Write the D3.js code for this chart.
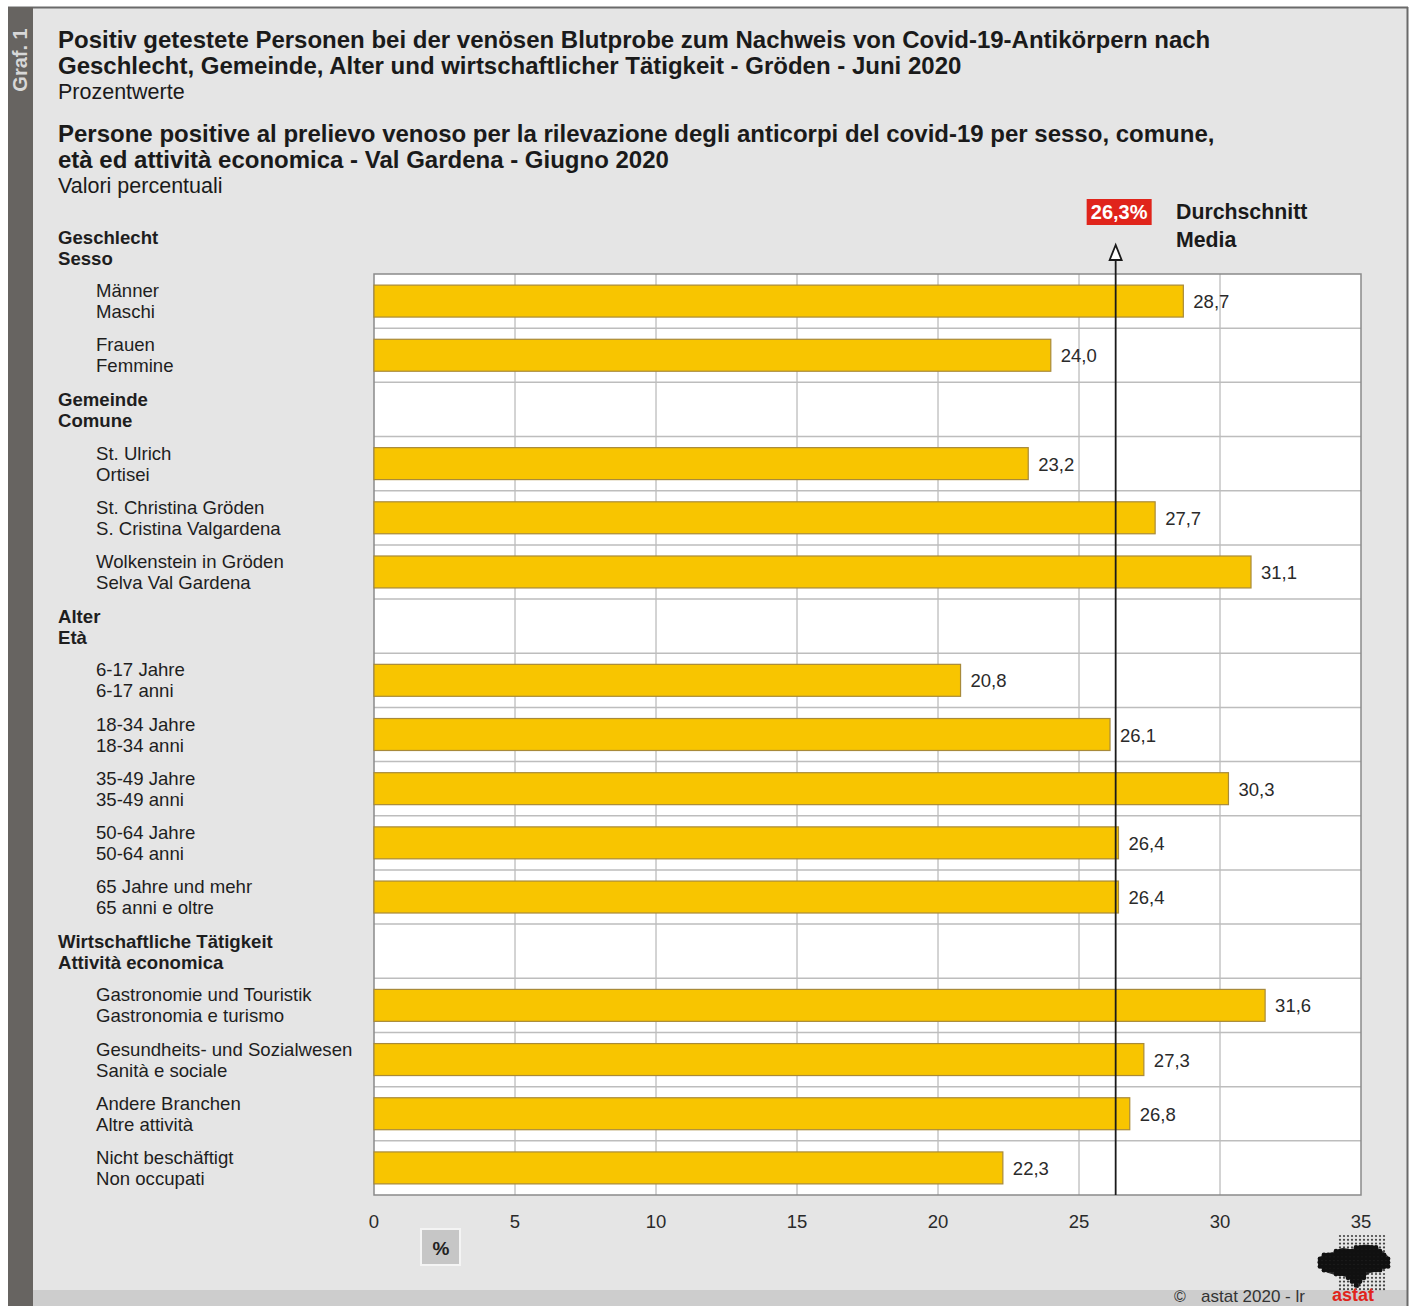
<html>
<head>
<meta charset="utf-8">
<title>Positiv getestete Personen - Gröden - Juni 2020</title>
<style>
  body {margin: 0; background: #fff;}
  svg {display: block; font-family: "Liberation Sans", Arial, sans-serif;}
</style>
</head>
<body>
<svg></svg>
<script src="https://d3js.org/d3.v7.min.js"></script>
<script>
// rows: headers have no value
const labelsDe = ["Geschlecht", "Männer", "Frauen", "Gemeinde", "St. Ulrich", "St. Christina Gröden", "Wolkenstein in Gröden",
  "Alter", "6-17 Jahre", "18-34 Jahre", "35-49 Jahre", "50-64 Jahre", "65 Jahre und mehr",
  "Wirtschaftliche Tätigkeit", "Gastronomie und Touristik", "Gesundheits- und Sozialwesen", "Andere Branchen", "Nicht beschäftigt"];
const labelsIt = ["Sesso", "Maschi", "Femmine", "Comune", "Ortisei", "S. Cristina Valgardena", "Selva Val Gardena",
  "Età", "6-17 anni", "18-34 anni", "35-49 anni", "50-64 anni", "65 anni e oltre",
  "Attività economica", "Gastronomia e turismo", "Sanità e sociale", "Altre attività", "Non occupati"];
const values = [null, 28.7, 24.0, null, 23.2, 27.7, 31.1, null, 20.8, 26.1, 30.3, 26.4, 26.4, null, 31.6, 27.3, 26.8, 22.3];
const average = 26.3;
const xTicks = [0, 5, 10, 15, 20, 25, 30, 35];

const width = 1410, height = 1306;
const svg = d3.select("svg").attr("width", width).attr("height", height);

const fmt = v => d3.format(".1f")(v).replace(".", ",");

// frame
svg.append("rect").attr("x", 8).attr("y", 8).attr("width", 1399).attr("height", 1298).attr("fill", "#e5e5e5");
svg.append("rect").attr("x", 8).attr("y", 1290).attr("width", 1399).attr("height", 16).attr("fill", "#cdcdcd");
svg.append("line").attr("x1", 8).attr("x2", 1408).attr("y1", 7.5).attr("y2", 7.5).attr("stroke", "#6a6a6a").attr("stroke-width", 2);
svg.append("line").attr("x1", 1407.5).attr("x2", 1407.5).attr("y1", 7).attr("y2", 1306).attr("stroke", "#6a6a6a").attr("stroke-width", 2);
svg.append("rect").attr("x", 8).attr("y", 7).attr("width", 25).attr("height", 1299).attr("fill", "#676461");
svg.append("text").attr("transform", "translate(27,60) rotate(-90)")
  .attr("text-anchor", "middle").attr("font-size", 20).attr("font-weight", "bold").attr("fill", "#d8d8d8").text("Graf. 1");

// titles
const titles = [
  {t: "Positiv getestete Personen bei der venösen Blutprobe zum Nachweis von Covid-19-Antikörpern nach", y: 48, b: true},
  {t: "Geschlecht, Gemeinde, Alter und wirtschaftlicher Tätigkeit - Gröden - Juni 2020", y: 74, b: true},
  {t: "Prozentwerte", y: 99, b: false},
  {t: "Persone positive al prelievo venoso per la rilevazione degli anticorpi del covid-19 per sesso, comune,", y: 142, b: true},
  {t: "età ed attività economica - Val Gardena - Giugno 2020", y: 168, b: true},
  {t: "Valori percentuali", y: 193, b: false}
];
svg.append("g").selectAll("text").data(titles).join("text")
  .attr("x", 58).attr("y", d => d.y)
  .attr("font-size", d => d.b ? 24 : 21.5)
  .attr("font-weight", d => d.b ? "bold" : "normal")
  .attr("fill", "#1a1a1a").text(d => d.t);

// scales
const plotL = 374, plotR = 1361, plotT = 274, plotB = 1195;
const step = (plotB - plotT) / (values.length - 1);
const y = d3.scaleBand().domain(d3.range(values.length))
  .range([plotT - step, plotB]).paddingInner(0.41).paddingOuter(0.205);
const x = d3.scaleLinear().domain([0, 35]).range([plotL, plotR]);
const rowCenter = i => y(i) + y.bandwidth() / 2;

// plot area
svg.append("rect").attr("x", plotL).attr("y", plotT).attr("width", plotR - plotL).attr("height", plotB - plotT)
  .attr("fill", "#fff");
svg.append("g").selectAll("line").data(xTicks.slice(1, -1)).join("line")
  .attr("x1", d => x(d)).attr("x2", d => x(d)).attr("y1", plotT).attr("y2", plotB)
  .attr("stroke", "#a8a8a8").attr("stroke-width", 1);
svg.append("g").selectAll("line").data(d3.range(2, values.length)).join("line")
  .attr("x1", plotL).attr("x2", plotR)
  .attr("y1", i => plotT + (i - 1) * step).attr("y2", i => plotT + (i - 1) * step)
  .attr("stroke", "#bdbdbd").attr("stroke-width", 1.5);
svg.append("rect").attr("x", plotL).attr("y", plotT).attr("width", plotR - plotL).attr("height", plotB - plotT)
  .attr("fill", "none").attr("stroke", "#8a8a8a").attr("stroke-width", 1.5);

// bars
const barData = values.map((v, i) => ({v, i})).filter(d => d.v !== null);
svg.append("g").selectAll("rect").data(barData).join("rect")
  .attr("x", x(0)).attr("y", d => y(d.i))
  .attr("width", d => x(d.v) - x(0)).attr("height", y.bandwidth())
  .attr("fill", "#f8c500").attr("stroke", "#a88a3a").attr("stroke-width", 1.2);
svg.append("g").selectAll("text").data(barData).join("text")
  .attr("x", d => x(d.v) + 10).attr("y", d => rowCenter(d.i) + 7)
  .attr("font-size", 18.5).attr("fill", "#2a2a2a").text(d => fmt(d.v));

// mean line
const mx = x(average);
svg.append("line").attr("x1", mx).attr("x2", mx).attr("y1", plotB).attr("y2", 258)
  .attr("stroke", "#1a1a1a").attr("stroke-width", 1.8);
svg.append("path").attr("d", `M${mx},245 L${mx - 6},260 L${mx + 6},260 Z`)
  .attr("fill", "#fff").attr("stroke", "#1a1a1a").attr("stroke-width", 1.8);
svg.append("rect").attr("x", mx - 29).attr("y", 199).attr("width", 65).attr("height", 26).attr("fill", "#e0241b");
svg.append("text").attr("x", mx + 3.5).attr("y", 219).attr("text-anchor", "middle")
  .attr("font-size", 20).attr("font-weight", "bold").attr("fill", "#fff").text(fmt(average) + "%");
svg.append("text").attr("x", 1176).attr("y", 219).attr("font-size", 21.3).attr("font-weight", "bold").attr("fill", "#1a1a1a").text("Durchschnitt");
svg.append("text").attr("x", 1176).attr("y", 247).attr("font-size", 21.3).attr("font-weight", "bold").attr("fill", "#1a1a1a").text("Media");

// row labels
const rowLabels = svg.append("g").selectAll("g").data(values.map((v, i) => ({v, i}))).join("g");
rowLabels.append("text")
  .attr("x", d => d.v === null ? 58 : 96).attr("y", d => rowCenter(d.i) - (d.v === null ? 3 : 4))
  .attr("font-size", 18.6).attr("font-weight", d => d.v === null ? "bold" : "normal")
  .attr("fill", "#1e1e1e").text(d => labelsDe[d.i]);
rowLabels.append("text")
  .attr("x", d => d.v === null ? 58 : 96).attr("y", d => rowCenter(d.i) + (d.v === null ? 18 : 17))
  .attr("font-size", 18.6).attr("font-weight", d => d.v === null ? "bold" : "normal")
  .attr("fill", "#1e1e1e").text(d => labelsIt[d.i]);

// x axis labels
svg.append("g").selectAll("text").data(xTicks).join("text")
  .attr("x", d => x(d)).attr("y", 1228).attr("text-anchor", "middle")
  .attr("font-size", 18.5).attr("fill", "#2a2a2a").text(d => d);

// unit box
svg.append("rect").attr("x", 421).attr("y", 1229).attr("width", 39).attr("height", 36)
  .attr("fill", "#c6c6c6").attr("stroke", "#f4f4f4").attr("stroke-width", 2);
svg.append("text").attr("x", 441).attr("y", 1255).attr("text-anchor", "middle")
  .attr("font-size", 19).attr("font-weight", "bold").attr("fill", "#222").text("%");

// footer
svg.append("text").attr("x", 1174).attr("y", 1302).attr("font-size", 16).attr("fill", "#333").text("©");
svg.append("text").attr("x", 1201).attr("y", 1302).attr("font-size", 17).attr("fill", "#333").text("astat 2020 - lr");

// logo (dotted map)
const logo = svg.append("g").attr("transform", "translate(1318,1234)");
const blob = [[0, 26], [6, 20], [16, 18], [24, 14], [34, 15], [44, 11], [56, 12], [64, 17], [71, 24], [70, 33],
  [60, 37], [50, 40], [44, 47], [40, 54], [35, 49], [28, 43], [18, 41], [8, 38], [1, 32]];
const dots = [];
for (let r = 0; r < 15; r++) {
  for (let c = 0; c < 18; c++) {
    const px = c * 4 + 2, py = r * 3.8 + 2;
    const inside = d3.polygonContains(blob, [px, py]);
    if (inside || (px > 20 && px < 68)) dots.push({px, py, inside});
  }
}
logo.selectAll("circle").data(dots).join("circle")
  .attr("cx", d => d.px).attr("cy", d => d.py)
  .attr("r", d => d.inside ? 2.4 : 1.1)
  .attr("fill", d => d.inside ? "#111" : "#444");
logo.append("path").attr("d", d3.line().curve(d3.curveCardinalClosed)(blob))
  .attr("fill", "#111").attr("opacity", 0.85);
svg.append("text").attr("x", 1332).attr("y", 1301).attr("font-size", 18).attr("font-weight", "bold")
  .attr("fill", "#e0241b").text("astat");
</script>
</body>
</html>
